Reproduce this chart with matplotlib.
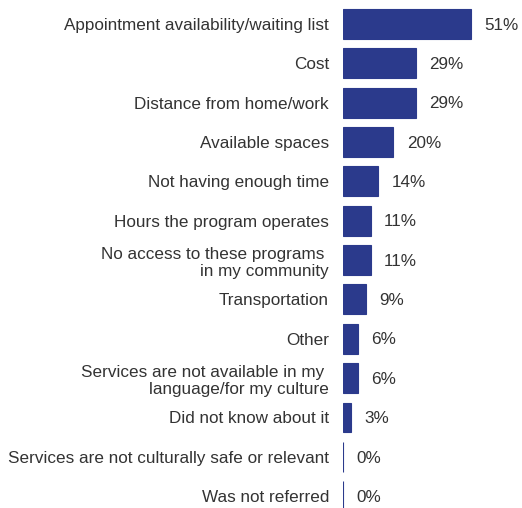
import matplotlib
matplotlib.use("Agg")
import matplotlib.pyplot as plt

categories = [
    "Appointment availability/waiting list",
    "Cost",
    "Distance from home/work",
    "Available spaces",
    "Not having enough time",
    "Hours the program operates",
    "No access to these programs \nin my community",
    "Transportation",
    "Other",
    "Services are not available in my \nlanguage/for my culture",
    "Did not know about it",
    "Services are not culturally safe or relevant",
    "Was not referred",
]
values = [51, 29, 29, 20, 14, 11, 11, 9, 6, 6, 3, 0, 0]
value_labels = ["51%", "29%", "29%", "20%", "14%", "11%", "11%", "9%", "6%", "6%", "3%", "0%", "0%"]

plt.rcParams['font.family'] = ['Liberation Sans', 'DejaVu Sans']
text_color = "#333333"
bar_color = "#2B3A8C"

fig = plt.figure(figsize=(5.22, 5.08), dpi=100)
ax = fig.add_axes([343/522, 0, 179/522, 1])

y = list(range(len(categories)))
ax.barh(y, values, height=0.762, color=bar_color, edgecolor=bar_color, linewidth=0.8)
for yi, v, lab in zip(y, values, value_labels):
    ax.text(v + 5.4, yi + 0.03, lab, va="center", ha="left", fontsize=12.3, color=text_color)

ax.set_yticks(y)
ax.set_yticklabels(categories, fontsize=12.3, color=text_color, ha="right", linespacing=1.2)
ax.tick_params(axis="y", length=0, pad=10)
ax.set_xticks([])
ax.set_xlim(0, 71.3)
ax.set_ylim(12.30, -0.61)
for s in ax.spines.values():
    s.set_visible(False)

fig.savefig("out.png", dpi=100)
